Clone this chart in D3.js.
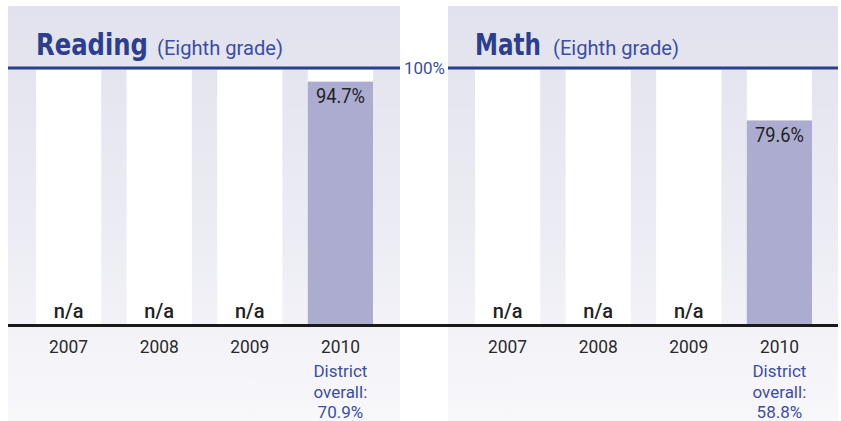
<!DOCTYPE html>
<html>
<head>
<meta charset="utf-8">
<script src="https://cdnjs.cloudflare.com/ajax/libs/d3/7.8.5/d3.min.js"></script>
<style>
  html, body { margin: 0; padding: 0; background: #ffffff; }
  svg { display: block; }
</style>
</head>
<body>
<svg id="chart" width="841" height="421"></svg>
<script>
// ---- data ----
const subjects = ["Reading", "Math"];
const subtitle = "(Eighth grade)";
const years = ["2007", "2008", "2009", "2010"];
const readingValues = [null, null, null, 94.7];
const mathValues = [null, null, null, 79.6];
const districtOverall = [70.9, 58.8];
const topTickLabel = "100%";
const missingLabel = "n/a";

const seriesValues = [readingValues, mathValues];

// ---- layout ----
const W = 841, H = 421;
const svg = d3.select("#chart");
const defs = svg.append("defs");
const grad = defs.append("linearGradient")
  .attr("id", "bgGrad").attr("x1", 0).attr("y1", 0).attr("x2", 0).attr("y2", 1);
grad.append("stop").attr("offset", "0%").attr("stop-color", "#e2e2ee");
grad.append("stop").attr("offset", "55%").attr("stop-color", "#ececf4");
grad.append("stop").attr("offset", "100%").attr("stop-color", "#f8f8fb");

const yTop = 68, yBase = 325;
const y = d3.scaleLinear().domain([0, 100]).range([yBase, yTop]);

const panels = [
  { x0: 8, x1: 400, bandStart: 36, titleW: 112, subX: 157, subW: 126 },
  { x0: 448, x1: 838, bandStart: 475, titleW: 66, subX: 553, subW: 126 }
];

const FONT = "Roboto, 'Liberation Sans', 'DejaVu Sans', sans-serif";
const TITLEFONT = "'Liberation Sans Narrow', 'DejaVu Sans Condensed', Roboto, sans-serif";
const blue = "#2b3f8e";
const lightBlue = "#3b4ea2";

panels.forEach((p, i) => {
  const g = svg.append("g");
  // panel background
  g.append("rect")
    .attr("x", p.x0).attr("y", 6)
    .attr("width", p.x1 - p.x0).attr("height", H - 6)
    .attr("fill", "url(#bgGrad)");

  const x = d3.scaleBand()
    .domain(years)
    .range([p.bandStart, p.bandStart + 337])
    .paddingInner(0.28)
    .paddingOuter(0);

  // white columns
  g.selectAll("rect.col").data(years).enter().append("rect")
    .attr("class", "col")
    .attr("x", d => x(d))
    .attr("y", y(100) + 2)
    .attr("width", x.bandwidth())
    .attr("height", y(0) - y(100) - 2)
    .attr("fill", "#ffffff");

  const vals = seriesValues[i];
  const data = years.map((yr, k) => ({ yr, v: vals[k] }));

  // bars
  g.selectAll("rect.bar").data(data.filter(d => d.v != null)).enter().append("rect")
    .attr("class", "bar")
    .attr("x", d => x(d.yr))
    .attr("y", d => y(d.v))
    .attr("width", x.bandwidth())
    .attr("height", d => y(0) - y(d.v))
    .attr("fill", "#acacd0");

  // value labels
  g.selectAll("text.val").data(data.filter(d => d.v != null)).enter().append("text")
    .attr("class", "val")
    .attr("x", d => x(d.yr) + x.bandwidth() / 2)
    .attr("y", d => y(d.v) + 21.5)
    .attr("text-anchor", "middle")
    .attr("font-family", FONT)
    .attr("font-size", 20.5)
    .attr("fill", "#222222")
    .attr("textLength", 49)
    .attr("lengthAdjust", "spacingAndGlyphs")
    .text(d => d.v.toFixed(1) + "%");

  // n/a labels
  g.selectAll("text.na").data(data.filter(d => d.v == null)).enter().append("text")
    .attr("class", "na")
    .attr("x", d => x(d.yr) + x.bandwidth() / 2)
    .attr("y", yBase - 7)
    .attr("text-anchor", "middle")
    .attr("font-family", FONT)
    .attr("font-weight", 500)
    .attr("font-size", 20)
    .attr("fill", "#222222")
    .text(missingLabel);

  // top blue line
  g.append("line")
    .attr("x1", p.x0).attr("x2", p.x1)
    .attr("y1", y(100)).attr("y2", y(100))
    .attr("stroke", blue).attr("stroke-width", 3);

  // title
  g.append("text")
    .attr("x", p.bandStart).attr("y", 55)
    .attr("font-family", TITLEFONT)
    .attr("font-weight", "bold")
    .attr("font-size", 31)
    .attr("fill", blue)
    .attr("textLength", p.titleW)
    .attr("lengthAdjust", "spacingAndGlyphs")
    .text(subjects[i]);

  g.append("text")
    .attr("x", p.subX).attr("y", 55)
    .attr("font-family", FONT)
    .attr("font-size", 19.5)
    .attr("fill", lightBlue)
    .attr("textLength", p.subW)
    .attr("lengthAdjust", "spacingAndGlyphs")
    .text(subtitle);

  // x axis labels (years)
  const axis = d3.axisBottom(x).tickSize(0).tickPadding(0);
  const ax = g.append("g")
    .attr("transform", `translate(0,${yBase})`)
    .call(axis);
  ax.select(".domain").remove();
  ax.selectAll("text")
    .attr("dy", 0)
    .attr("y", 28)
    .attr("font-family", FONT)
    .attr("font-size", 18.5)
    .attr("fill", "#2a2a2a")
    .attr("textLength", 39)
    .attr("lengthAdjust", "spacingAndGlyphs");

  // district overall
  const last = years[years.length - 1];
  const lines = ["District", "overall:", districtOverall[i].toFixed(1) + "%"];
  g.selectAll("text.dist").data(lines).enter().append("text")
    .attr("class", "dist")
    .attr("x", x(last) + x.bandwidth() / 2)
    .attr("y", (d, k) => 377 + k * 20.5)
    .attr("text-anchor", "middle")
    .attr("font-family", FONT)
    .attr("font-size", 17)
    .attr("fill", lightBlue)
    .text(d => d);
});

// baseline across both panels
svg.append("line")
  .attr("x1", 8).attr("x2", 838)
  .attr("y1", yBase + 0.5).attr("y2", yBase + 0.5)
  .attr("stroke", "#1a1a1a").attr("stroke-width", 3);

// 100% label between panels
svg.append("text")
  .attr("x", 424.5).attr("y", y(100) + 6)
  .attr("text-anchor", "middle")
  .attr("font-family", FONT)
  .attr("font-size", 16.5)
  .attr("fill", lightBlue)
  .attr("textLength", 41)
  .attr("lengthAdjust", "spacingAndGlyphs")
  .text(topTickLabel);
</script>
</body>
</html>
